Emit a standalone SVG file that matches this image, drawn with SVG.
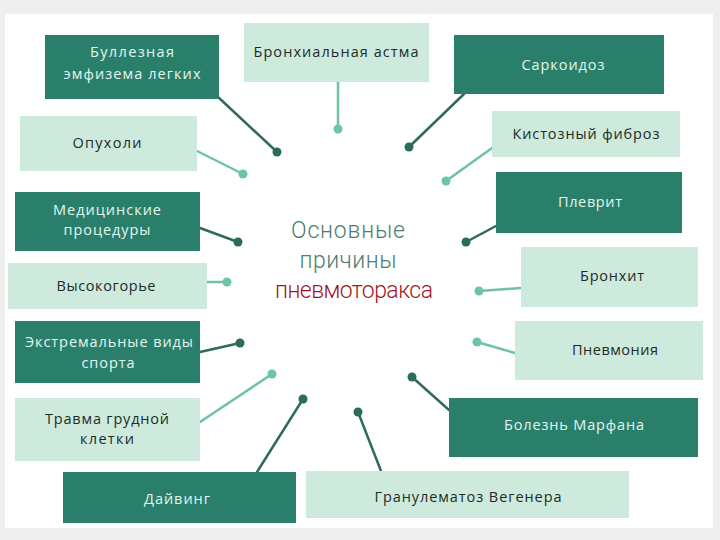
<svg xmlns="http://www.w3.org/2000/svg" width="720" height="540" viewBox="0 0 720 540">
<style>
.dk rect{fill:#2a7f6b}
.lt rect{fill:#cdeadd}
.dk text{fill:#e2f6ee}
.lt text{fill:#1f2a27}
text{font-family:"Open Sans","DejaVu Sans",sans-serif;font-size:14.5px;text-anchor:middle}
.cl{stroke-width:2.5;fill:none;stroke-linecap:round}
.cd{stroke:#2f6b5c}
.cg{stroke:#6cc2a6}
.dd{fill:#2a6b5b}
.dg{fill:#6cc5a8}
.title{font-size:23px;font-family:"Roboto","Open Sans",sans-serif;font-weight:300}
</style>
<rect x="0" y="0" width="720" height="540" fill="#efefef"/>
<rect x="5" y="14" width="708" height="514" fill="#ffffff"/>

<g id="connectors">
<line class="cl cd" x1="218" y1="97" x2="277" y2="152"/><circle class="dd" cx="277" cy="152" r="4.5"/>
<line class="cl cg" x1="338" y1="82" x2="338" y2="129"/><circle class="dg" cx="338" cy="129" r="4.5"/>
<line class="cl cd" x1="464" y1="94" x2="409" y2="147"/><circle class="dd" cx="409" cy="147" r="4.5"/>
<line class="cl cg" x1="492" y1="148" x2="446" y2="181"/><circle class="dg" cx="446" cy="181" r="4.5"/>
<line class="cl cg" x1="197" y1="151" x2="243" y2="174"/><circle class="dg" cx="243" cy="174" r="4.5"/>
<line class="cl cd" x1="496" y1="226" x2="466" y2="242"/><circle class="dd" cx="466" cy="242" r="4.5"/>
<line class="cl cd" x1="200" y1="228" x2="238" y2="242"/><circle class="dd" cx="238" cy="242" r="4.5"/>
<line class="cl cg" x1="207" y1="282" x2="227" y2="282"/><circle class="dg" cx="227" cy="282" r="4.5"/>
<line class="cl cg" x1="521" y1="288" x2="479" y2="291"/><circle class="dg" cx="479" cy="291" r="4.5"/>
<line class="cl cd" x1="200" y1="352" x2="240" y2="343"/><circle class="dd" cx="240" cy="343" r="4.5"/>
<line class="cl cg" x1="515" y1="353" x2="477" y2="342"/><circle class="dg" cx="477" cy="342" r="4.5"/>
<line class="cl cg" x1="200" y1="422" x2="272" y2="374"/><circle class="dg" cx="272" cy="374" r="4.5"/>
<line class="cl cd" x1="257" y1="472" x2="303" y2="399"/><circle class="dd" cx="303" cy="399" r="4.5"/>
<line class="cl cd" x1="449" y1="410" x2="412" y2="377"/><circle class="dd" cx="412" cy="377" r="4.5"/>
<line class="cl cd" x1="381" y1="471" x2="358" y2="412"/><circle class="dd" cx="358" cy="412" r="4.5"/>
</g>

<g id="n1" class="dk"><rect x="45" y="35" width="174" height="64"/>
<text x="132" y="57" textLength="84">Буллезная</text><text x="132" y="79" textLength="137">эмфизема легких</text></g>
<g id="n2" class="lt"><rect x="244" y="23" width="185" height="59"/>
<text x="336" y="57" textLength="165">Бронхиальная астма</text></g>
<g id="n3" class="dk"><rect x="454" y="35" width="210" height="59"/>
<text x="563" y="70" textLength="83">Саркоидоз</text></g>
<g id="n4" class="lt"><rect x="492" y="111" width="188" height="46"/>
<text x="586" y="139" textLength="147">Кистозный фиброз</text></g>
<g id="n5" class="lt"><rect x="20" y="116" width="177" height="55"/>
<text x="107" y="148" textLength="69">Опухоли</text></g>
<g id="n6" class="dk"><rect x="496" y="172" width="186" height="61"/>
<text x="590" y="207" textLength="64">Плеврит</text></g>
<g id="n7" class="dk"><rect x="15" y="192" width="185" height="59"/>
<text x="107" y="215" textLength="108">Медицинские</text><text x="107" y="235" textLength="87">процедуры</text></g>
<g id="n8" class="lt"><rect x="8" y="263" width="199" height="46"/>
<text x="106" y="291" textLength="99">Высокогорье</text></g>
<g id="n9" class="lt"><rect x="521" y="247" width="177" height="60"/>
<text x="612" y="281" textLength="64">Бронхит</text></g>
<g id="n10" class="dk"><rect x="15" y="321" width="185" height="62"/>
<text x="109" y="347" textLength="168">Экстремальные виды</text><text x="108" y="368" textLength="53">спорта</text></g>
<g id="n11" class="lt"><rect x="515" y="321" width="188" height="59"/>
<text x="615" y="355" textLength="86">Пневмония</text></g>
<g id="n12" class="lt"><rect x="15" y="398" width="185" height="63"/>
<text x="107" y="424" textLength="124">Травма грудной</text><text x="107" y="444" textLength="54">клетки</text></g>
<g id="n13" class="dk"><rect x="449" y="398" width="249" height="59"/>
<text x="574" y="430" textLength="140">Болезнь Марфана</text></g>
<g id="n14" class="dk"><rect x="63" y="472" width="233" height="51"/>
<text x="177" y="504" textLength="66">Дайвинг</text></g>
<g id="n15" class="lt"><rect x="306" y="471" width="323" height="47"/>
<text x="468" y="502" textLength="187">Гранулематоз Вегенера</text></g>

<g id="title">
<text class="title" x="348" y="238" fill="#4d7c72" textLength="114">Основные</text>
<text class="title" x="348" y="268" fill="#4d7c72" textLength="97">причины</text>
<text class="title" x="354" y="298" fill="#a3171f" textLength="158">пневмоторакса</text>
</g>
</svg>
